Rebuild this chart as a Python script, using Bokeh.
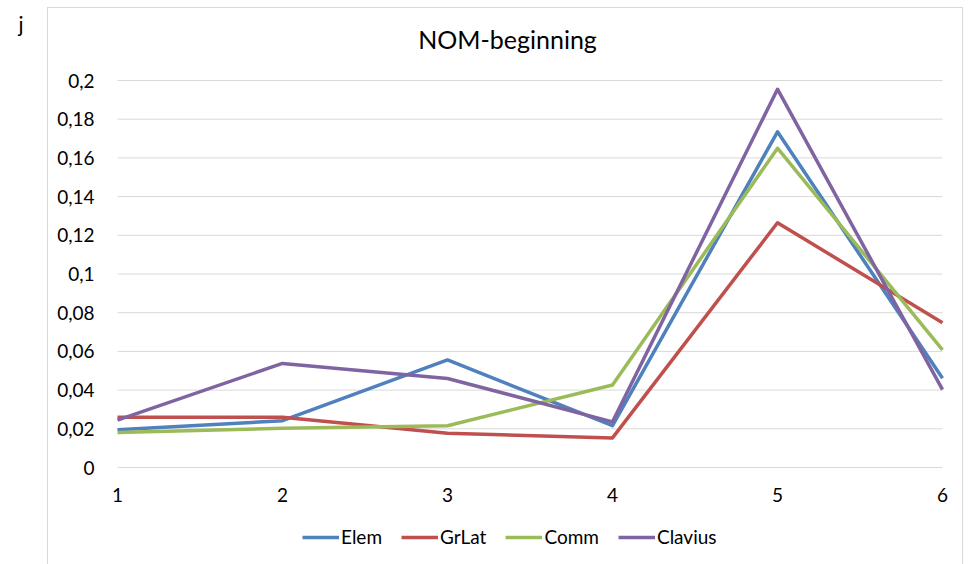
from bokeh.plotting import figure
from bokeh.models import Range1d, FixedTicker, Legend, LegendItem, Label
from bokeh.embed import file_html
from bokeh.resources import INLINE

# ---- data ----
x_vals = [1, 2, 3, 4, 5, 6]
elem = [0.0195, 0.0242, 0.0556, 0.0216, 0.1735, 0.0461]
grlat = [0.0260, 0.0260, 0.0177, 0.0153, 0.1265, 0.0748]
comm = [0.0181, 0.0203, 0.0216, 0.0426, 0.1650, 0.0608]
clavius = [0.0245, 0.0538, 0.0460, 0.0236, 0.1955, 0.0402]
series_names = ["Elem", "GrLat", "Comm", "Clavius"]
y_ticks = [0, 0.02, 0.04, 0.06, 0.08, 0.1, 0.12, 0.14, 0.16, 0.18, 0.2]
y_tick_labels = ["0", "0,02", "0,04", "0,06", "0,08", "0,1", "0,12", "0,14",
                 "0,16", "0,18", "0,2"]
x_ticks = [1, 2, 3, 4, 5, 6]
title_text = "NOM-beginning"
corner_text = "j"

colors = ["#4F81BD", "#C0504D", "#9BBB59", "#8064A2"]
FONT = "Lato"
GRID = "#d9d9d9"

# The plotting frame covers the whole canvas (so nothing is clipped); the
# ranges are chosen so that x=1..6 spans 117..942 px and y=0..0.2 spans 467..80 px.
p = figure(width=971, height=564, output_backend="svg", toolbar_location=None,
           x_range=Range1d(0.29091, 6.17576),
           y_range=Range1d(-0.050129, 0.241344),
           min_border_left=0, min_border_right=0,
           min_border_top=0, min_border_bottom=0)
p.outline_line_color = None
p.background_fill_alpha = 0
p.border_fill_alpha = 0
# light grey chart-area frame (left, top, right edges) painted behind the canvas
frame_css = (
    f"linear-gradient({GRID},{GRID}) 47px 7px / 1px 600px no-repeat, "
    f"linear-gradient({GRID},{GRID}) 47px 7px / 916px 1px no-repeat, "
    f"linear-gradient({GRID},{GRID}) 962px 7px / 1px 600px no-repeat, white"
)
p.styles = {"background": frame_css}

# horizontal gridlines, spanning the category extent only
p.xgrid.grid_line_color = None
p.ygrid.grid_line_color = None
p.segment(x0=[x_ticks[0]] * len(y_ticks), x1=[x_ticks[-1]] * len(y_ticks),
          y0=y_ticks, y1=y_ticks, line_color=GRID, line_width=1)

p.yaxis.ticker = FixedTicker(ticks=y_ticks)
p.yaxis.major_label_overrides = {t: lab for t, lab in zip(y_ticks, y_tick_labels)}
p.yaxis.fixed_location = x_ticks[0]
p.xaxis.ticker = FixedTicker(ticks=x_ticks)
p.xaxis.fixed_location = y_ticks[0]
for ax in (p.xaxis, p.yaxis):
    ax.axis_line_color = None
    ax.major_tick_line_color = None
    ax.minor_tick_line_color = None
    ax.major_label_text_font = FONT
    ax.major_label_text_font_size = "19px"
    ax.major_label_text_color = "#000000"
p.yaxis.major_label_standoff = 17
p.xaxis.major_label_standoff = 14

series = [elem, grlat, comm, clavius]
items = []
for name, ys, c in zip(series_names, series, colors):
    r = p.line(x_vals, ys, line_color=c, line_width=3.5, line_join="round")
    items.append(LegendItem(label=name, renderers=[r]))

legend = Legend(items=items, orientation="horizontal", location=(302, 16),
                glyph_width=37, label_standoff=2, spacing=19, padding=0,
                margin=0, border_line_color=None, background_fill_alpha=0,
                label_text_font=FONT, label_text_font_size="19px",
                label_text_color="#000000")
p.add_layout(legend, "center")

p.add_layout(Label(x=507, y=526, x_units="screen", y_units="screen",
                   text=title_text, text_align="center", text_baseline="middle",
                   text_font=FONT, text_font_size="25px", text_color="#000000"))
p.add_layout(Label(x=18, y=541, x_units="screen", y_units="screen",
                   text=corner_text, text_align="left",
                   text_baseline="alphabetic",
                   text_font=FONT, text_font_size="21px", text_color="#000000"))

open("out.html", "w").write(file_html(p, INLINE))
